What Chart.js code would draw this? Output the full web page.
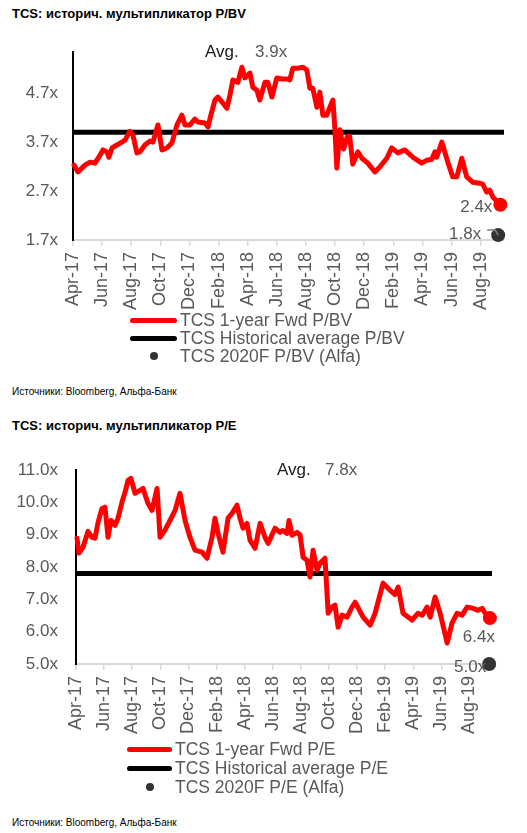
<!DOCTYPE html>
<html>
<head>
<meta charset="utf-8">
<script src="https://cdn.jsdelivr.net/npm/chart.js@4.4.1/dist/chart.umd.min.js"></script>
<style>
html,body{margin:0;padding:0;background:#fff;}
body{width:527px;height:833px;position:relative;overflow:hidden;font-family:"Liberation Sans",Arial,sans-serif;}
.title{position:absolute;left:12px;font-weight:bold;font-size:13px;color:#000;line-height:15px;white-space:nowrap;}
.src{position:absolute;left:12px;font-size:10px;color:#000;line-height:12px;white-space:nowrap;}
canvas{position:absolute;left:0;}
.leg{position:absolute;font-size:17.5px;color:#595959;line-height:18px;white-space:nowrap;}
.sw{position:absolute;height:5px;border-radius:2.5px;}
.dot{position:absolute;width:8px;height:8px;border-radius:50%;background:#333;}
</style>
</head>
<body>
<div class="title" style="top:6px">TCS: историч. мультипликатор P/BV</div>
<canvas id="c1" width="527" height="320" style="top:0"></canvas>
<div id="leg1"></div>
<div class="src" style="top:386px">Источники: Bloomberg, Альфа-Банк</div>

<div class="title" style="top:418px">TCS: историч. мультипликатор P/E</div>
<canvas id="c2" width="527" height="345" style="top:400px"></canvas>
<div id="leg2"></div>
<div class="src" style="top:817px">Источники: Bloomberg, Альфа-Банк</div>

<script>
// ---- data ----
const xTickMonths = [0, 2, 4, 6, 8, 10, 12, 14, 16, 18, 20, 22, 24, 26, 28];
const xTickLabels = ['Apr-17','Jun-17','Aug-17','Oct-17','Dec-17','Feb-18','Apr-18','Jun-18','Aug-18','Oct-18','Dec-18','Feb-19','Apr-19','Jun-19','Aug-19'];

const pbvTicks = [1.7, 2.7, 3.7, 4.7];
const pbvMonths = [0.07,0.34,0.82,1.17,1.51,1.85,2.06,2.33,2.47,2.68,3.02,3.36,3.57,3.91,4.12,4.39,4.60,4.94,5.28,5.49,5.83,6.11,6.45,6.79,7.14,7.48,7.69,8.03,8.37,8.58,9.06,9.27,9.47,9.75,9.95,10.23,10.57,10.78,10.98,11.32,11.60,11.80,12.15,12.35,12.63,12.83,13.18,13.38,13.66,14.00,14.34,14.69,14.89,15.10,15.44,15.79,16.06,16.27,16.47,16.75,16.95,17.16,17.43,17.64,17.85,17.98,18.12,18.33,18.58,18.85,19.00,19.22,19.56,19.84,20.25,20.73,21.07,21.55,21.89,22.31,22.79,23.34,23.95,24.30,24.64,24.85,24.98,25.33,25.74,26.08,26.36,26.70,27.04,27.45,27.93,28.14,28.41,28.62,28.83,29.35];
const pbvFwd = [3.23,3.09,3.23,3.29,3.27,3.43,3.54,3.50,3.39,3.58,3.64,3.70,3.74,3.92,3.84,3.48,3.50,3.64,3.72,3.70,4.05,3.54,3.58,3.68,4.05,4.25,4.05,4.05,4.17,4.11,4.09,4.01,4.25,4.56,4.62,4.52,4.39,4.66,4.97,4.92,5.23,5.01,5.11,4.82,4.76,4.56,4.92,4.92,4.62,5.01,4.99,4.99,4.97,5.21,5.21,5.23,5.17,4.80,4.80,4.41,4.72,4.25,4.25,4.41,4.56,3.99,3.17,3.95,3.56,3.82,3.82,3.25,3.50,3.37,3.27,3.09,3.19,3.37,3.58,3.48,3.54,3.39,3.27,3.33,3.35,3.50,3.39,3.70,3.29,2.99,2.99,3.37,2.99,2.88,2.86,2.84,2.68,2.72,2.58,2.42];
const pbvAvgMonths = [0, 29.6];
const pbvAvg = [3.9, 3.9];
const pbv2020FMonth = [29.2];
const pbv2020F = [1.8];

const peTicks = [5, 6, 7, 8, 9, 10, 11];
const peMonths = [0.07,0.21,0.50,0.85,1.14,1.35,1.57,1.85,2.06,2.28,2.49,2.78,2.99,3.27,3.49,3.70,3.91,4.20,4.56,4.77,5.12,5.41,5.77,5.98,6.33,6.69,7.05,7.40,7.76,8.11,8.47,8.97,9.32,9.68,9.89,10.11,10.46,10.82,11.10,11.46,11.67,11.89,12.17,12.38,12.74,13.10,13.45,13.67,14.16,14.52,14.73,15.02,15.16,15.37,15.73,15.94,16.16,16.44,16.65,16.87,17.15,17.37,17.72,17.94,18.22,18.43,18.65,18.93,19.29,19.64,19.86,20.43,20.93,21.28,21.85,22.35,22.70,22.92,23.27,23.91,24.34,24.63,24.98,25.20,25.55,25.91,26.41,26.76,27.12,27.47,27.83,28.26,28.61,28.90,29.11,29.45];
const peFwd = [8.89,8.43,8.61,9.10,8.92,8.89,9.38,9.81,9.85,8.92,9.44,9.29,9.51,10.00,10.31,10.68,10.74,10.28,10.37,10.43,9.97,9.75,10.43,8.92,9.14,9.44,9.75,10.28,9.44,8.92,8.52,8.46,8.27,8.92,9.51,9.04,8.46,9.51,9.66,9.91,9.51,9.20,9.35,8.83,8.58,9.35,8.92,8.73,9.20,9.07,9.13,9.04,9.44,8.98,9.07,9.00,8.30,8.21,7.69,8.52,7.90,8.12,8.27,6.57,6.76,6.82,6.14,6.51,6.45,6.76,6.91,6.45,6.20,6.57,7.50,7.28,7.15,7.38,6.57,6.36,6.57,6.51,6.76,6.45,7.07,6.57,5.65,6.27,6.57,6.51,6.76,6.72,6.66,6.72,6.57,6.42];
const peAvgMonths = [0, 29.6];
const peAvg = [7.8, 7.8];
const pe2020FMonth = [29.4];
const pe2020F = [5.0];

const legend1 = ['TCS 1-year Fwd P/BV', 'TCS Historical average P/BV', 'TCS 2020F P/BV (Alfa)'];
const legend2 = ['TCS 1-year Fwd P/E', 'TCS Historical average P/E', 'TCS 2020F P/E (Alfa)'];

// ---- helpers ----
const FONT = '"Liberation Sans", Arial, sans-serif';
const GREY = '#595959';
const pts = (xs, ys) => xs.map((x, i) => ({x: x, y: ys[i]}));
const fmt = v => v.toFixed(1) + 'x';

const annot = {
  id: 'annot',
  afterDatasetsDraw(chart, args, o) {
    const ctx = chart.ctx;
    ctx.save();
    ctx.font = '17px ' + FONT;
    ctx.textBaseline = 'middle';
    ctx.textAlign = 'left';
    ctx.fillStyle = '#1a1a1a';
    ctx.fillText('Avg.', o.avgX, o.avgY);
    ctx.fillStyle = GREY;
    ctx.fillText(fmt(o.avgValue), o.avgValX, o.avgY);
    const m0 = chart.getDatasetMeta(0);
    const last = m0.data[m0.data.length - 1];
    const d0 = chart.data.datasets[0].data;
    ctx.textAlign = o.endAlign;
    ctx.fillText(fmt(d0[d0.length - 1].y), last.x + o.endDx, last.y + o.endDy);
    const m2 = chart.getDatasetMeta(2);
    const p = m2.data[0];
    const v = chart.data.datasets[2].data[0].y;
    ctx.textAlign = 'right';
    ctx.fillText(fmt(v), p.x + o.fDx, p.y + o.fDy);
    if (o.leader) {
      ctx.strokeStyle = '#7f7f7f';
      ctx.lineWidth = 1.5;
      ctx.beginPath();
      ctx.moveTo(p.x - 11, p.y - 5);
      ctx.lineTo(p.x - 3, p.y - 5);
      ctx.lineTo(p.x, p.y);
      ctx.stroke();
    }
    ctx.restore();
  }
};

function makeChart(id, cfg) {
  const n = cfg.fwd.length;
  return new Chart(document.getElementById(id), {
    type: 'line',
    data: {
      datasets: [
        {
          data: pts(cfg.months, cfg.fwd),
          borderColor: '#ff0000', backgroundColor: '#ff0000',
          borderWidth: 5, tension: 0, borderJoinStyle: 'round', borderCapStyle: 'round',
          pointRadius: c => c.dataIndex === n - 1 ? 7 : 0,
          pointBackgroundColor: '#ff0000', pointBorderWidth: 0, clip: false, order: 2
        },
        {
          data: pts(cfg.avgMonths, cfg.avg),
          borderColor: '#000', borderWidth: 5, pointRadius: 0, clip: false, order: 3
        },
        {
          data: pts(cfg.fMonth, cfg.f),
          showLine: false, pointRadius: 7, pointBackgroundColor: '#333',
          pointBorderWidth: 0, clip: false, order: 1
        }
      ]
    },
    options: {
      responsive: false, animation: false, devicePixelRatio: 1,
      layout: {padding: {top: cfg.padTop, right: cfg.padRight, left: 0, bottom: 0}},
      plugins: {legend: {display: false}, tooltip: {enabled: false}, annot: cfg.annot},
      scales: {
        x: {
          type: 'linear', min: 0, max: 29.6,
          afterBuildTicks: s => { s.ticks = xTickMonths.map(v => ({value: v})); },
          afterFit: s => { s.height = cfg.xHeight; },
          ticks: {
            autoSkip: false, minRotation: 90, maxRotation: 90, padding: 6,
            color: GREY, font: {family: FONT, size: 18},
            callback: (v, i) => xTickLabels[i]
          },
          grid: {drawOnChartArea: false, drawTicks: true, tickLength: 6, color: '#d9d9d9', lineWidth: 1.5},
          border: {display: true, color: '#d9d9d9', width: 2}
        },
        y: {
          type: 'linear', min: cfg.yMin, max: cfg.yMax,
          afterBuildTicks: s => { s.ticks = cfg.yTicks.map(v => ({value: v})); },
          afterFit: s => { s.width = cfg.yWidth; },
          ticks: {
            padding: cfg.yPad, color: GREY, font: {family: FONT, size: 17},
            callback: v => fmt(v)
          },
          grid: {drawOnChartArea: false, drawTicks: false},
          border: {display: true, color: '#000', width: 2}
        }
      }
    },
    plugins: [annot]
  });
}

makeChart('c1', {
  months: pbvMonths, fwd: pbvFwd, avgMonths: pbvAvgMonths, avg: pbvAvg,
  fMonth: pbv2020FMonth, f: pbv2020F, yTicks: pbvTicks, yMin: 1.7, yMax: 5.54,
  padTop: 52, padRight: 23, xHeight: 80, yWidth: 73, yPad: 15,
  annot: {avgX: 205, avgValX: 255, avgY: 52, avgValue: pbvAvg[0],
          endAlign: 'right', endDx: -8, endDy: 3, fDx: -17, fDy: -1, leader: true}
});

makeChart('c2', {
  months: peMonths, fwd: peFwd, avgMonths: peAvgMonths, avg: peAvg,
  fMonth: pe2020FMonth, f: pe2020F, yTicks: peTicks, yMin: 5, yMax: 11,
  padTop: 70, padRight: 35, xHeight: 81, yWidth: 76, yPad: 18,
  annot: {avgX: 277, avgValX: 325, avgY: 70, avgValue: peAvg[0],
          endAlign: 'right', endDx: 5, endDy: 19, fDx: -3, fDy: 3, leader: false}
});

// ---- legends (HTML) ----
function legend(id, labels, lineX, textX, rowY) {
  const root = document.getElementById(id);
  const colors = ['#ff0000', '#000000'];
  labels.forEach((t, i) => {
    const cy = rowY[i];
    if (i < 2) {
      const s = document.createElement('div');
      s.className = 'sw';
      s.style.cssText = `left:${lineX}px;top:${cy - 2.5}px;width:${textX - lineX - 3}px;background:${colors[i]}`;
      root.appendChild(s);
    } else {
      const d = document.createElement('div');
      d.className = 'dot';
      d.style.cssText = `left:${(lineX + textX) / 2 - 5}px;top:${cy - 4}px`;
      root.appendChild(d);
    }
    const l = document.createElement('div');
    l.className = 'leg';
    l.textContent = t;
    l.style.cssText = `left:${textX}px;top:${cy - 9}px`;
    root.appendChild(l);
  });
}
legend('leg1', legend1, 130, 180, [320, 338, 356]);
legend('leg2', legend2, 127, 175, [749, 768, 787]);
</script>
</body>
</html>
